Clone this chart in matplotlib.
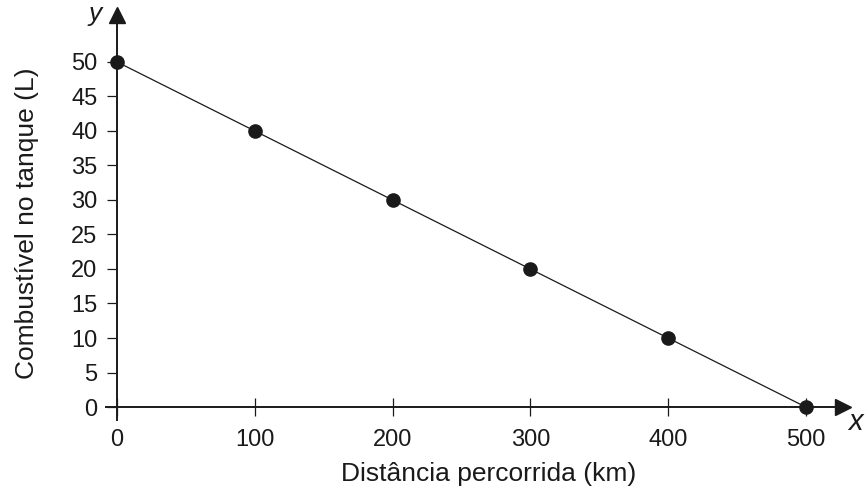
import matplotlib
matplotlib.use("Agg")
import matplotlib.pyplot as plt

# dados: distancia percorrida x combustivel no tanque
distancia = [0, 100, 200, 300, 400, 500]
combustivel = [50, 40, 30, 20, 10, 0]
xticks = [0, 100, 200, 300, 400, 500]
yticks = [0, 5, 10, 15, 20, 25, 30, 35, 40, 45, 50]

plt.rcParams['font.family'] = ['Liberation Sans', 'DejaVu Sans']
cor = '#1a1a1a'

fig = plt.figure(figsize=(8.68, 5.01), dpi=100)
ax = fig.add_axes([106 / 868, 81 / 501, 737 / 868, 405 / 501])
ax.set_xlim(-8, 527)
ax.set_ylim(-1.88, 56.8)

# eixos cruzando na origem
for lado in ['top', 'right']:
    ax.spines[lado].set_visible(False)
ax.spines['left'].set_position(('data', 0))
ax.spines['bottom'].set_position(('data', 0))
ax.spines['left'].set_linewidth(1.4)
ax.spines['bottom'].set_linewidth(1.4)
ax.spines['left'].set_color(cor)
ax.spines['bottom'].set_color(cor)

# setas
ax.plot(1, 0, '>', color=cor, markersize=12, transform=ax.get_yaxis_transform(), clip_on=False)
ax.plot(0, 1, '^', color=cor, markersize=12, transform=ax.get_xaxis_transform(), clip_on=False)

ax.set_xticks(xticks)
ax.set_yticks(yticks)
ax.tick_params(axis='x', direction='inout', length=13, width=0.9, pad=9,
               labelsize=17, colors=cor)
ax.tick_params(axis='y', direction='out', length=7, width=0.9, pad=7,
               labelsize=17, colors=cor)

ax.plot(distancia, combustivel, color=cor, linewidth=0.9, marker='o',
        markersize=9.5, clip_on=False, zorder=5)

fig.text(489 / 868, 1 - 474 / 501, 'Distância percorrida (km)', fontsize=19,
         color=cor, ha='center', va='center')
fig.text(27 / 868, 1 - 223 / 501, 'Combustível no tanque (L)', fontsize=19,
         color=cor, ha='center', va='center', rotation=90)
# rotulos dos eixos (x, y) em italico
fig.text(855 / 868, 1 - 430 / 501, 'x', fontsize=21, style='italic',
         color=cor, ha='center', va='baseline')
fig.text(95 / 868, 1 - 2 / 501, 'y', fontsize=19, style='italic',
         color=cor, ha='center', va='top')

fig.savefig('out.png', dpi=100)
